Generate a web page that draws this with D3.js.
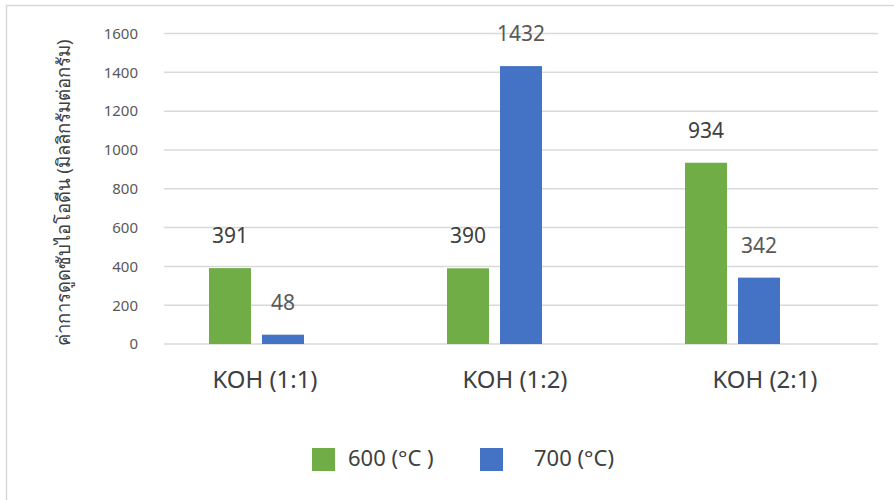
<!DOCTYPE html>
<html lang="th">
  <head>
    <meta charset="UTF-8" />
    <title>Iodine adsorption</title>
    <script src="https://cdn.jsdelivr.net/npm/d3@7"></script>
    <style>
      body { margin: 0; background: #fff; }
      svg { display: block; font-family: "Noto Sans", "DejaVu Sans", sans-serif; }
    </style>
  </head>
  <body>
    <svg width="894" height="500"></svg>
    <script>
      // data
      const categories = ["KOH (1:1)", "KOH (1:2)", "KOH (2:1)"];
      const series = ["600 (°C )", "700 (°C)"];
      const values600 = [391, 390, 934];
      const values700 = [48, 1432, 342];
      const yTicks = [0, 200, 400, 600, 800, 1000, 1200, 1400, 1600];
      const yTitle = "ค่าการดูดซับไอโอดีน (มิลลิกรัมต่อกรัม)";

      const colors = ["#70AD47", "#4472C4"];
      const svg = d3.select("svg");

      // chart frame (right/bottom sit outside the picture)
      svg.append("rect")
        .attr("x", 6.5).attr("y", 5.5)
        .attr("width", 920).attr("height", 520)
        .attr("fill", "none").attr("stroke", "#d9d9d9").attr("stroke-width", 1.5);

      const y = d3.scaleLinear().domain([0, 1600]).range([344, 33.5]);
      const x = d3.scaleBand().domain(categories).range([137.5, 851.5]);
      const xLab = d3.scaleBand().domain(categories).range([140, 890]);
      const xIn = d3.scaleBand().domain(series)
        .range([x.bandwidth() / 2 - 47.5, x.bandwidth() / 2 + 47.5]).paddingInner(0.2075);

      // gridlines
      svg.append("g").selectAll("line").data(yTicks).join("line")
        .attr("x1", 164).attr("x2", 878)
        .attr("y1", d => y(d)).attr("y2", d => y(d))
        .attr("stroke", "#d9d9d9").attr("stroke-width", 1.5);

      // y tick labels
      const yAxis = svg.append("g").attr("transform", "translate(146,0)")
        .call(d3.axisLeft(y).tickValues(yTicks).tickFormat(d3.format("d")).tickSize(0).tickPadding(8));
      yAxis.select(".domain").remove();
      yAxis.selectAll("text").attr("font-size", 15).attr("fill", "#595959")
        .attr("font-family", "Noto Sans, sans-serif");

      // x labels
      const xAxis = svg.append("g").attr("transform", "translate(0,372)")
        .call(d3.axisBottom(xLab).tickSize(0).tickPadding(0));
      xAxis.select(".domain").remove();
      xAxis.selectAll("text").attr("font-size", 23).attr("fill", "#404040")
        .attr("dy", "0.71em").attr("font-family", "Noto Sans, sans-serif")
        .attr("textLength", 105).attr("lengthAdjust", "spacingAndGlyphs");

      // bars
      const rows = categories.map((c, i) => ({ cat: c, vals: [values600[i], values700[i]] }));
      const groups = svg.append("g").selectAll("g").data(rows).join("g")
        .attr("transform", d => `translate(${x(d.cat)},0)`);
      groups.selectAll("rect").data(d => d.vals.map((v, j) => ({ s: series[j], v, j }))).join("rect")
        .attr("x", d => xIn(d.s))
        .attr("width", xIn.bandwidth())
        .attr("y", d => y(d.v))
        .attr("height", d => y(0) - y(d.v))
        .attr("fill", d => colors[d.j]);
      groups.selectAll("text").data(d => d.vals.map((v, j) => ({ s: series[j], v, j }))).join("text")
        .attr("x", d => xIn(d.s) + xIn.bandwidth() / 2)
        .attr("y", d => y(d.v) - 25)
        .attr("text-anchor", "middle")
        .attr("font-size", 21)
        .attr("fill", d => d.j === 0 ? "#404040" : "#595959")
        .text(d => d.v);

      // y title
      svg.append("text")
        .attr("transform", "translate(70,193) rotate(-90)")
        .attr("text-anchor", "middle")
        .attr("font-size", 18.5)
        .attr("fill", "#404040")
        .text(yTitle);

      // legend
      const legX = [312, 480];
      const legTextX = [348, 534];
      const legend = svg.append("g").selectAll("g").data(series).join("g");
      legend.append("rect")
        .attr("x", (d, i) => legX[i]).attr("y", 448)
        .attr("width", 23).attr("height", 23)
        .attr("fill", (d, i) => colors[i]);
      legend.append("text")
        .attr("x", (d, i) => legTextX[i]).attr("y", 466)
        .attr("font-size", 22).attr("fill", "#404040")
        .text(d => d);
    </script>
  </body>
</html>
